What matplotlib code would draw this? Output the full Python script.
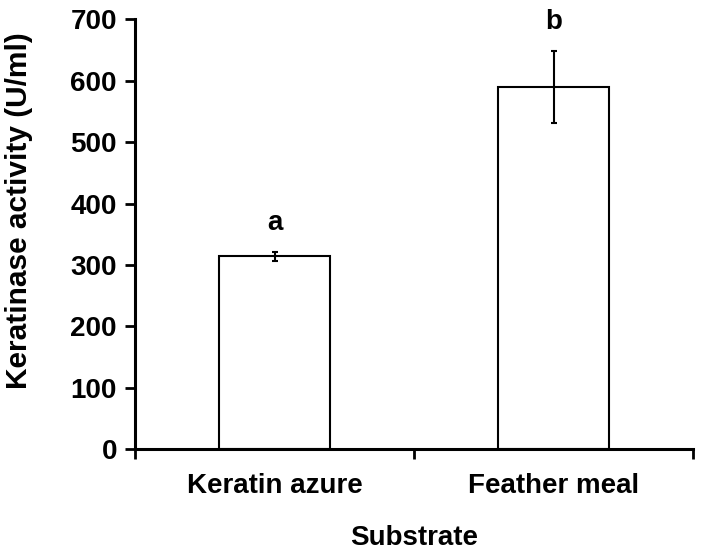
import matplotlib
matplotlib.use('Agg')
import matplotlib.pyplot as plt

substrates = ['Keratin azure', 'Feather meal']
activity = [314, 590]
errors = [7, 58]
letters = ['a', 'b']

plt.rcParams['font.family'] = ['Liberation Sans', 'DejaVu Sans']
plt.rcParams['font.weight'] = 'bold'

fig = plt.figure(figsize=(7.02, 5.57), dpi=100)
ax = fig.add_axes([0.1923, 0.194, 0.795, 0.771])

pos = list(range(len(substrates)))
ax.bar(pos, activity, width=0.4, color='white', edgecolor='black', linewidth=1.5, zorder=2)
ax.errorbar(pos, activity, yerr=errors, fmt='none', ecolor='black', elinewidth=1.5,
            capsize=2.5, capthick=1.5, zorder=3)

# significance letters just above the error bars
for p, v, e, t in zip(pos, activity, errors, letters):
    ax.annotate(t, (p, v + e), xytext=(0, 21), textcoords='offset points',
                ha='center', va='center', fontsize=20, fontweight='bold')

ax.set_xlim(-0.5, len(substrates) - 0.5)
ax.set_ylim(0, 700)
ax.set_yticks(range(0, 701, 100))
ax.set_xticks([-0.5, 0.5, 1.5])
ax.set_xticklabels([])
ax.set_xticks(pos, minor=True)
ax.set_xticklabels(substrates, minor=True, fontsize=20, fontweight='bold')
ax.tick_params(axis='x', which='minor', length=0, pad=17)
ax.tick_params(axis='x', which='major', direction='out', length=7, width=2)
ax.tick_params(axis='y', direction='out', length=7, width=2, labelsize=20, pad=6)
for lab in ax.get_yticklabels():
    lab.set_fontweight('bold')

ax.spines['top'].set_visible(False)
ax.spines['right'].set_visible(False)
ax.spines['left'].set_linewidth(2.2)
ax.spines['bottom'].set_linewidth(2.2)

ax.set_xlabel('Substrate', fontsize=20, fontweight='bold', labelpad=19)
ax.set_ylabel('Keratinase activity (U/ml)', fontsize=21.5, fontweight='bold')
ax.yaxis.set_label_coords(-0.182, 0.556)

fig.savefig('out.png', dpi=100)
